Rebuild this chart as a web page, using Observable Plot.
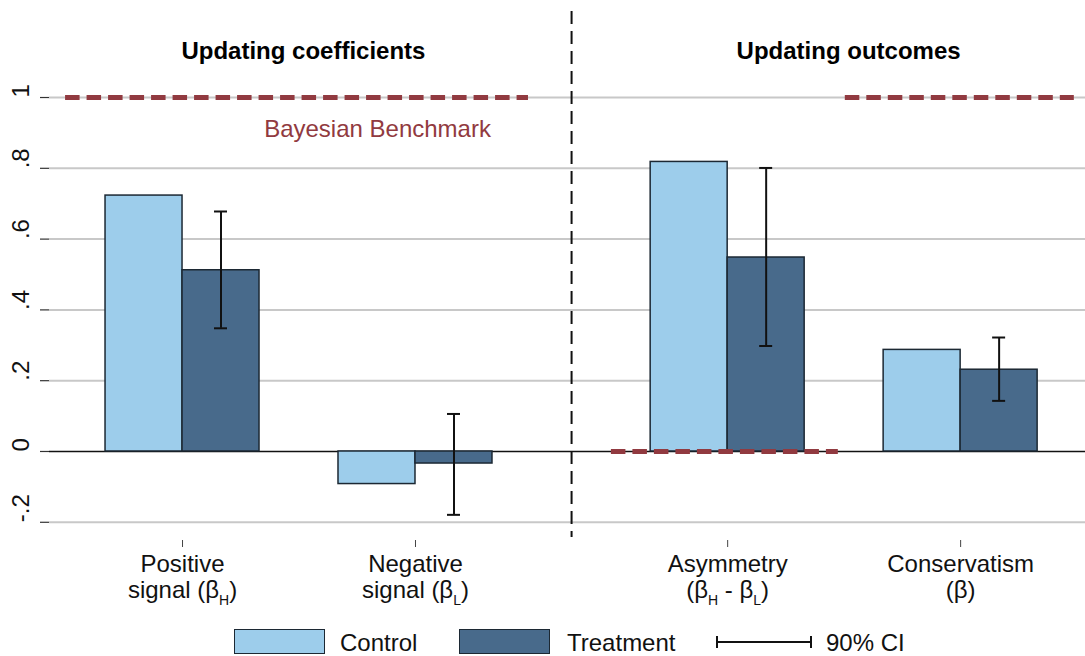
<!DOCTYPE html>
<html>
<head>
<meta charset="utf-8">
<script src="https://cdn.jsdelivr.net/npm/d3@7"></script>
<script src="https://cdn.jsdelivr.net/npm/@observablehq/plot@0.6"></script>
<style>
  html, body { margin: 0; padding: 0; background: #fff; }
  #wrap { position: relative; width: 1085px; height: 656px; font-family: "Liberation Sans", Arial, sans-serif; }
  .leg { position: absolute; font-size: 24px; color: #111; line-height: 1; }
  .box { position: absolute; box-sizing: border-box; border: 1.5px solid #1c2833; }
</style>
</head>
<body>
<div id="wrap"></div>
<script>
// ---- data ----
const groupLabels = ["Positive\nsignal (β_H)", "Negative\nsignal (β_L)", "Asymmetry\n(β_H - β_L)", "Conservatism\n(β)"];
const groupPos = [1, 2, 3.34, 4.34];
const controlVals = [0.723, -0.092, 0.818, 0.287];
const treatmentVals = [0.512, -0.034, 0.548, 0.231];
const ciLow = [0.348, -0.179, 0.298, 0.143];
const ciHigh = [0.678, 0.106, 0.801, 0.322];
const panelTitles = ["Updating coefficients", "Updating outcomes"];
const panelTitlePos = [1.519, 3.859];
const panelDivider = [2.67];
const benchX1 = [0.498, 3.845, 2.841];
const benchX2 = [2.485, 4.828, 3.815];
const benchY = [1, 1, 0];
const yTicks = [-0.2, 0, 0.2, 0.4, 0.6, 0.8, 1];
const yTickLabels = ["-.2", "0", ".2", ".4", ".6", ".8", "1"];
const seriesNames = ["Control", "Treatment"];
const seriesColors = ["#9dcdeb", "#486a8b"];
const barW = 0.3305;

const bars = [];
groupPos.forEach((p, i) => {
  bars.push({series: "Control", x1: p - barW, x2: p, v: controlVals[i]});
  bars.push({series: "Treatment", x1: p, x2: p + barW, v: treatmentVals[i]});
});
const cis = groupPos.map((p, i) => ({x: p + barW / 2, lo: ciLow[i], hi: ciHigh[i]}));
const bench = benchY.map((y, i) => ({x1: benchX1[i], x2: benchX2[i], y}));

const red = "#913a40";
const font = "'Liberation Sans', Arial, sans-serif";

const chart = Plot.plot({
  width: 1085,
  height: 614,
  marginLeft: 49,
  marginRight: 0,
  marginTop: 11,
  marginBottom: 77,
  style: {fontFamily: font, fontSize: "24px", background: "white", color: "#111"},
  x: {domain: [0.429, 4.876], axis: null},
  y: {domain: [-0.243, 1.243], axis: null},
  color: {domain: seriesNames, range: seriesColors},
  marks: [
    Plot.gridY(yTicks.filter(d => d !== 0), {stroke: "#c8c8c8", strokeOpacity: 1, strokeWidth: 2}),
    Plot.axisY({ticks: yTicks, tickSize: 9, tickFormat: () => "", stroke: "#333", strokeWidth: 1.2}),
    Plot.text(yTicks, {y: d => d, text: (d, i) => yTickLabels[i], frameAnchor: "left", dx: -28, rotate: -90, fontSize: 24, fill: "#111"}),
    Plot.axisX({ticks: groupPos, tickSize: 7, tickFormat: () => "", dy: 3, stroke: "#444", strokeWidth: 1}),
    Plot.ruleY([0], {stroke: "#111", strokeWidth: 1.6}),
    Plot.rectY(bars, {x1: "x1", x2: "x2", y1: 0, y2: "v", fill: "series", stroke: "#1c2833", strokeWidth: 1.5}),
    Plot.ruleX(cis, {x: "x", y1: "lo", y2: "hi", stroke: "#111", strokeWidth: 2}),
    Plot.ruleY(cis, {x1: "x", x2: "x", y: "lo", insetLeft: -6.5, insetRight: -6.5, stroke: "#111", strokeWidth: 2}),
    Plot.ruleY(cis, {x1: "x", x2: "x", y: "hi", insetLeft: -6.5, insetRight: -6.5, stroke: "#111", strokeWidth: 2}),
    Plot.ruleY(bench, {x1: "x1", x2: "x2", y: "y", stroke: red, strokeWidth: 5, strokeDasharray: "14.5,7"}),
    Plot.ruleX(panelDivider, {stroke: "#111", strokeWidth: 2, strokeDasharray: "13,7"}),
    Plot.text(panelTitles, {x: (d, i) => panelTitlePos[i], text: d => d, frameAnchor: "top", dy: 30, fontWeight: "bold", fontSize: 24, fill: "#000"}),
    Plot.text(["Bayesian Benchmark"], {x: [1.837], y: [0.911], text: d => d, fill: red, fontSize: 24}),
    Plot.text(groupLabels, {x: (d, i) => groupPos[i], text: d => d, frameAnchor: "bottom", lineAnchor: "top", dy: 17, lineHeight: 1.05, fontSize: 24, fill: "#111", className: "xlab"})
  ]
});

// subscripts in category labels
d3.select(chart).selectAll("g.xlab tspan, g.xlab text").each(function() {
  const el = d3.select(this);
  if (this.childElementCount > 0) return;
  const t = this.textContent;
  if (!t.includes("_")) return;
  const parts = t.split(/_([A-Z])/);
  el.text(null);
  let shifted = false;
  parts.forEach((s, k) => {
    if (s === "") return;
    const sub = k % 2 === 1;
    const ts = el.append("tspan").text(s).attr("fill", "#111");
    if (sub) { ts.attr("font-size", 14).attr("dy", 7); shifted = true; }
    else if (shifted) { ts.attr("dy", -7); shifted = false; }
  });
});

const wrap = document.getElementById("wrap");
wrap.appendChild(chart);

// legend below the chart
function addBox(x, w, color) {
  const b = document.createElement("div");
  b.className = "box";
  Object.assign(b.style, {left: x + "px", top: "629px", width: w + "px", height: "25px", background: color});
  wrap.appendChild(b);
}
function addText(x, s) {
  const t = document.createElement("div");
  t.className = "leg";
  Object.assign(t.style, {left: x + "px", top: "631px"});
  t.textContent = s;
  wrap.appendChild(t);
}
addBox(234, 91, seriesColors[0]);
addText(340, seriesNames[0]);
addBox(459, 91, seriesColors[1]);
addText(567, seriesNames[1]);
const ci = document.createElementNS("http://www.w3.org/2000/svg", "svg");
ci.setAttribute("width", 100); ci.setAttribute("height", 20);
Object.assign(ci.style, {position: "absolute", left: "712px", top: "632px"});
ci.innerHTML = '<line x1="5" x2="99" y1="10" y2="10" stroke="#111" stroke-width="2"/><line x1="5" x2="5" y1="4" y2="16" stroke="#111" stroke-width="2"/><line x1="99" x2="99" y1="4" y2="16" stroke="#111" stroke-width="2"/>';
wrap.appendChild(ci);
addText(826, "90% CI");
</script>
</body>
</html>
